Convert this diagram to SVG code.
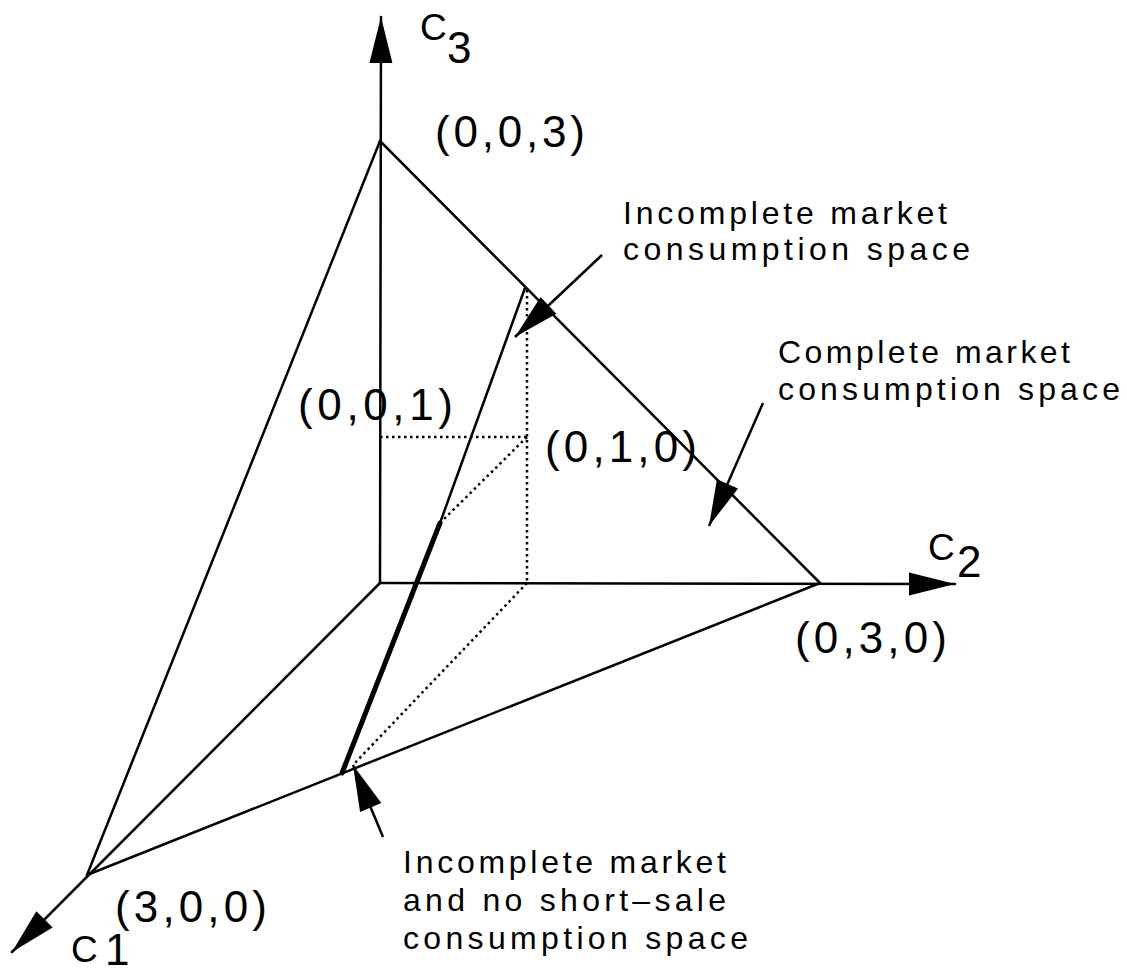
<svg xmlns="http://www.w3.org/2000/svg" width="1127" height="975" viewBox="0 0 1127 975">
<style>
.ln{stroke:#000;stroke-width:2.5;fill:none;stroke-linecap:round}
.bold{stroke:#000;stroke-width:5;fill:none;stroke-linecap:round}
.dot{stroke:#000;stroke-width:2.5;fill:none;stroke-dasharray:2.5 3.5}
.ptr{stroke:#000;stroke-width:2.5;fill:none}
text{font-family:"Liberation Sans",Arial,sans-serif;fill:#000}
.coord{font-size:44px}
.lab{font-size:32px}
.ax{font-size:37px}
.sub{font-size:44px}
</style>
<defs>
<marker id="head" viewBox="-47 -13 48 26" refX="0" refY="0" markerWidth="48" markerHeight="26" markerUnits="userSpaceOnUse" orient="auto">
<path d="M0,0 L-46,-11.5 L-46,11.5 Z" fill="#000"/>
</marker>
</defs>
<rect width="1127" height="975" fill="#fff"/>
<g id="connectors">
<line class="ln" x1="380" y1="583" x2="381" y2="17" marker-end="url(#head)"/>
<line class="ln" x1="380" y1="583" x2="955" y2="584" marker-end="url(#head)"/>
<line class="ln" x1="380" y1="583" x2="12" y2="952" marker-end="url(#head)"/>
<line class="ln" x1="380" y1="141" x2="820" y2="583"/>
<line class="ln" x1="820" y1="583" x2="87" y2="875"/>
<line class="ln" x1="87" y1="875" x2="380" y2="141"/>
<line class="dot" x1="380" y1="437" x2="527" y2="437"/>
<line class="dot" x1="527" y1="290" x2="527" y2="583"/>
<line class="dot" x1="527" y1="437" x2="440" y2="523"/>
<line class="dot" x1="527" y1="583" x2="353" y2="765"/>
<line class="ln" x1="525" y1="288" x2="440" y2="523"/>
<line class="bold" x1="440" y1="523" x2="342" y2="773"/>
<line class="ptr" x1="602" y1="255" x2="515" y2="337" marker-end="url(#head)"/>
<line class="ptr" x1="763" y1="403" x2="709" y2="526" marker-end="url(#head)"/>
<line class="ptr" x1="383" y1="837" x2="353" y2="765" marker-end="url(#head)"/>
</g>
<g id="axis-c3-label"><text class="ax" x="420" y="40">C</text><text class="sub" x="447" y="63">3</text></g>
<g id="axis-c2-label"><text class="ax" x="928" y="560">C</text><text class="sub" x="957" y="577">2</text></g>
<g id="axis-c1-label"><text class="ax" x="71" y="962">C</text><text class="sub" x="105" y="965">1</text></g>
<g id="pt-003"><text class="coord" x="435" y="147" textLength="150" lengthAdjust="spacing">(0,0,3)</text></g>
<g id="pt-001"><text class="coord" x="298" y="420" textLength="155" lengthAdjust="spacing">(0,0,1)</text></g>
<g id="pt-010"><text class="coord" x="545" y="462" textLength="152" lengthAdjust="spacing">(0,1,0)</text></g>
<g id="pt-030"><text class="coord" x="795" y="653" textLength="152" lengthAdjust="spacing">(0,3,0)</text></g>
<g id="pt-300"><text class="coord" x="115" y="922" textLength="152" lengthAdjust="spacing">(3,0,0)</text></g>
<g id="label-incomplete">
<text class="lab" x="623" y="224" textLength="324" lengthAdjust="spacing">Incomplete market</text>
<text class="lab" x="623" y="260" textLength="347" lengthAdjust="spacing">consumption space</text>
</g>
<g id="label-complete">
<text class="lab" x="778" y="363" textLength="292" lengthAdjust="spacing">Complete market</text>
<text class="lab" x="778" y="400" textLength="342" lengthAdjust="spacing">consumption space</text>
</g>
<g id="label-noshort">
<text class="lab" x="403" y="873" textLength="323" lengthAdjust="spacing">Incomplete market</text>
<text class="lab" x="403" y="911" textLength="323" lengthAdjust="spacing">and no short–sale</text>
<text class="lab" x="403" y="949" textLength="345" lengthAdjust="spacing">consumption space</text>
</g>
</svg>
